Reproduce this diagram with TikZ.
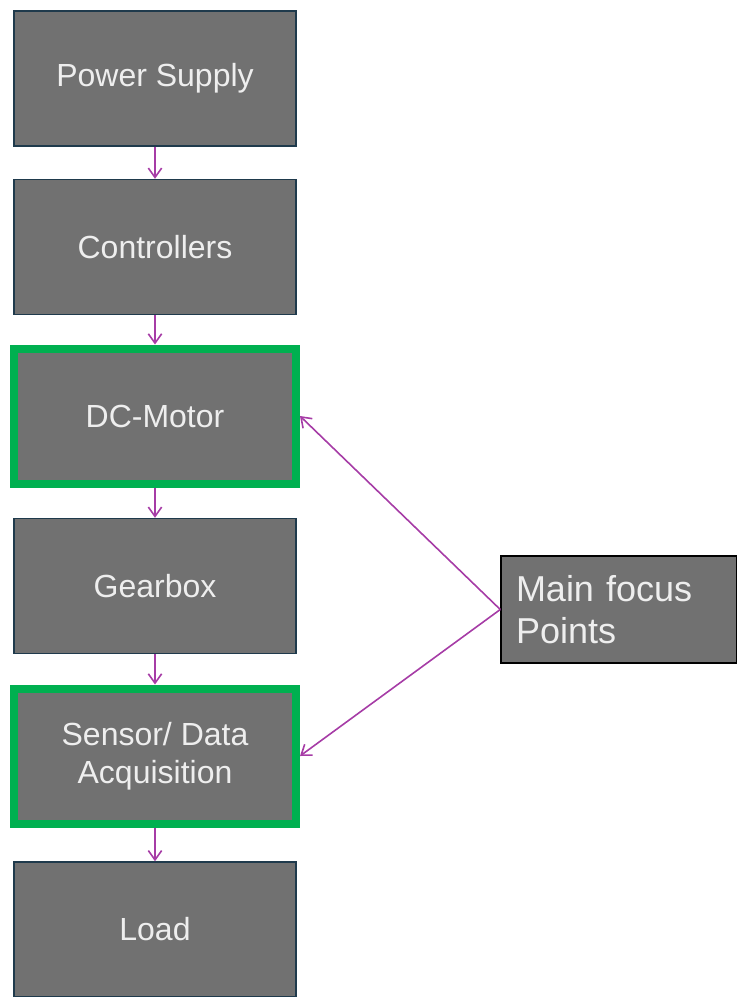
\documentclass[tikz,border=0pt]{standalone}
\usepackage{fontspec}
\setmainfont{Liberation Sans}
\usetikzlibrary{arrows.meta}

\definecolor{boxgray}{HTML}{717171}
\definecolor{boxedge}{HTML}{1F3A4C}
\definecolor{focusgreen}{HTML}{00B050}
\definecolor{flowpurple}{HTML}{A63CA6}
\definecolor{labelwhite}{HTML}{EEEEEE}

\begin{document}
\begin{tikzpicture}[x=0.75pt,y=-0.75pt,
  block/.style={draw=boxedge, line width=1.1pt, fill=boxgray, text=labelwhite,
    minimum width=211.5pt, minimum height=101.25pt, inner sep=0pt,
    align=center, font=\fontsize{24}{28.5}\selectfont},
  keyblock/.style={block, draw=focusgreen, line width=6pt},
  flow/.style={draw=flowpurple, line width=1.2pt,
    -{Straight Barb[length=7pt,width=10pt]}}]

\useasboundingbox (0,0) rectangle (737,997);

% main chain, top to bottom
\node[block]    (supply)  at (155,78.5) {Power Supply};
\node[block]    (ctrl)    at (155,247)  {Controllers};
\node[keyblock] (motor)   at (155,416)  {DC-Motor};
\node[block]    (gear)    at (155,586)  {Gearbox};
\node[keyblock] (sensor)  at (155,756)  {Sensor/ Data\\Acquisition};
\node[block]    (load)    at (155,929.5) {Load};

% side note
\node[block, draw=black, minimum width=177pt, minimum height=80.25pt,
  text width=154.5pt, inner xsep=11.25pt, align=left,
  font=\fontsize{27}{32}\selectfont] (focus) at (619,609.5) {Main focus\\Points};

\draw[flow] (supply) -- (ctrl);
\draw[flow] (ctrl) -- (motor);
\draw[flow] (motor) -- (gear);
\draw[flow] (gear) -- (sensor);
\draw[flow] (sensor) -- (load);

\draw[flow] (focus.west) -- (motor.east);
\draw[flow] (focus.west) -- (sensor.east);

\end{tikzpicture}
\end{document}
